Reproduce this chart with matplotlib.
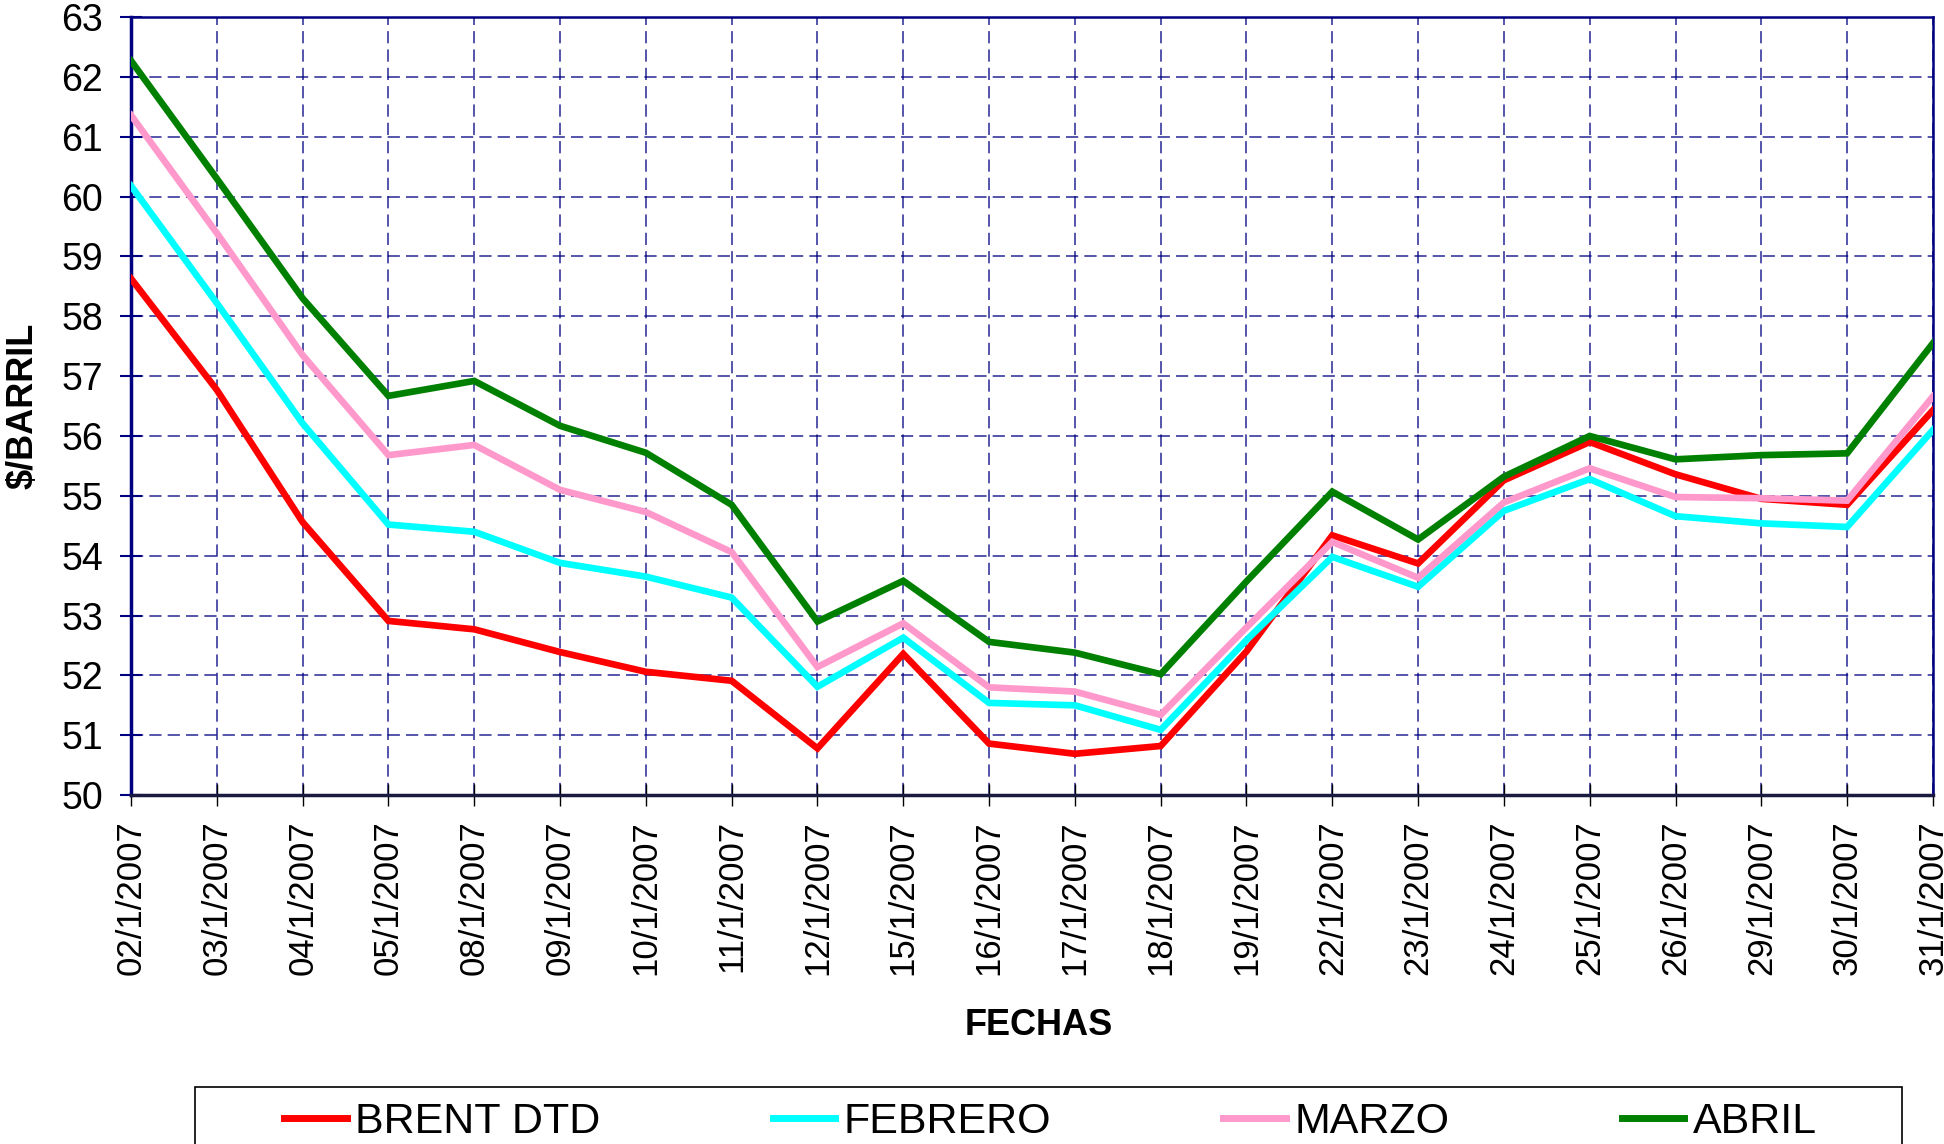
"""
Precios del crudo Brent y futuros - enero 2007
"""

import matplotlib
matplotlib.use("Agg")
import matplotlib.pyplot as plt
from matplotlib.patches import Rectangle
import numpy as np

plt.rcParams["font.family"] = ["Liberation Sans", "DejaVu Sans"]

# Datos
fechas = ["02/1/2007", "03/1/2007", "04/1/2007", "05/1/2007", "08/1/2007",
          "09/1/2007", "10/1/2007", "11/1/2007", "12/1/2007", "15/1/2007",
          "16/1/2007", "17/1/2007", "18/1/2007", "19/1/2007", "22/1/2007",
          "23/1/2007", "24/1/2007", "25/1/2007", "26/1/2007", "29/1/2007",
          "30/1/2007", "31/1/2007"]

brent = [58.63, 56.77, 54.56, 52.91, 52.77, 52.39, 52.06, 51.91, 50.78, 52.36,
         50.86, 50.69, 50.82, 52.40, 54.34, 53.87, 55.26, 55.90, 55.36, 54.95,
         54.85, 56.43]
febrero = [60.18, 58.22, 56.21, 54.52, 54.40, 53.88, 53.65, 53.30, 51.81, 52.63,
           51.54, 51.50, 51.09, 52.59, 53.98, 53.48, 54.75, 55.28, 54.66, 54.54,
           54.48, 56.10]
marzo = [61.36, 59.39, 57.35, 55.68, 55.85, 55.10, 54.73, 54.06, 52.14, 52.87,
         51.80, 51.73, 51.34, 52.80, 54.23, 53.63, 54.89, 55.46, 54.98, 54.96,
         54.92, 56.66]
abril = [62.27, 60.30, 58.30, 56.67, 56.92, 56.17, 55.72, 54.85, 52.90, 53.58,
         52.56, 52.38, 52.02, 53.57, 55.07, 54.27, 55.32, 56.00, 55.61, 55.68,
         55.71, 57.55]

series = [("BRENT DTD", brent, "#FF0000"),
          ("FEBRERO", febrero, "#00FFFF"),
          ("MARZO", marzo, "#FF99CC"),
          ("ABRIL", abril, "#008000")]

navy = "#000080"

fig = plt.figure(figsize=(19.44, 11.44), dpi=100)
ax = fig.add_axes([0.0674, 0.305, 0.9269, 0.6801])

x = np.arange(len(fechas))
for i, (name, vals, col) in enumerate(series):
    ax.plot(x, vals, color=col, linewidth=4.8, label=name, zorder=3 + i,
            solid_joinstyle="miter")

ax.set_xlim(0, len(fechas) - 1)
ax.set_ylim(50, 63)
ax.set_yticks(np.arange(50, 64, 1))
ax.set_xticks(x)
ax.set_xticklabels(fechas, rotation=90, fontsize=25)
ax.tick_params(axis="y", labelsize=27, direction="inout", length=16,
               width=1.5, color=navy, pad=12)
ax.tick_params(axis="x", direction="inout", length=16, width=1,
               color="black", pad=10)

ax.grid(True, color=navy, linewidth=1.1, linestyle=(0, (8, 4)), alpha=0.85)
ax.set_axisbelow(True)

for side in ["top", "right"]:
    ax.spines[side].set_color(navy)
    ax.spines[side].set_linewidth(1.8)
ax.spines["left"].set_color(navy)
ax.spines["left"].set_linewidth(2.5)
ax.spines["bottom"].set_color("#1a1a40")
ax.spines["bottom"].set_linewidth(2.5)

ax.set_ylabel("$/BARRIL", fontsize=26, fontweight="bold")
ax.yaxis.set_label_coords(-0.050, 0.5)
ax.set_xlabel("FECHAS", fontsize=26, fontweight="bold")
ax.xaxis.set_label_coords(0.504, -0.274)

# Marco de la leyenda (se corta en el borde inferior, como en el original)
frame = Rectangle((195 / 1944, -0.05), (1902 - 195) / 1944, 0.05 + 1 - 1087 / 1144,
                  transform=fig.transFigure, fill=False, edgecolor="black",
                  linewidth=1.2, clip_on=False)
fig.patches.append(frame)

leg = fig.legend(loc="upper left", bbox_to_anchor=(269 / 1944, 1 - 1087 / 1144),
                 ncol=4, fontsize=31, frameon=False,
                 handlelength=1.45, handletextpad=0.2, borderaxespad=0,
                 borderpad=0.35, columnspacing=4.0)
for line in leg.get_lines():
    line.set_linewidth(5)

fig.savefig("out.png", dpi=100)
